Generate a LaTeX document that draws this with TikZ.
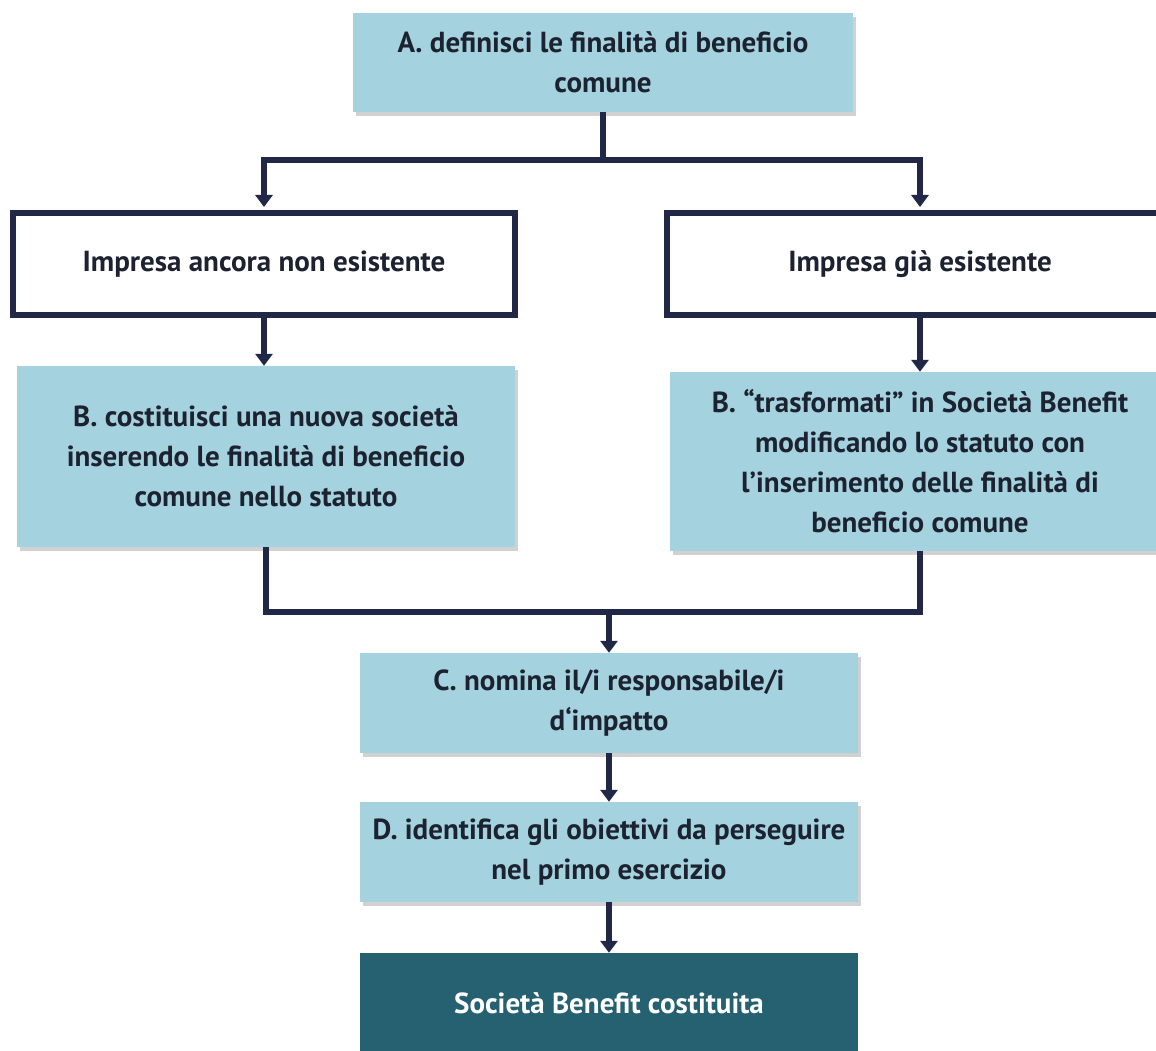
\documentclass[tikz,border=0pt]{standalone}
\usepackage{fontspec}
\setmainfont{PT Sans}
\usetikzlibrary{arrows.meta,shadows}
\definecolor{paleblue}{RGB}{164, 210, 223}
\definecolor{deepteal}{RGB}{38, 97, 114}
\definecolor{inkblue}{RGB}{33, 39, 70}
\definecolor{inktext}{RGB}{28, 34, 48}

\begin{document}
\begin{tikzpicture}[x=1pt, y=-1pt,
    stepbox/.style={fill=paleblue, draw=none, align=center, inner sep=0pt,
        text=inktext, font=\bfseries\fontsize{29}{40}\selectfont,
        drop shadow={shadow xshift=3pt, shadow yshift=-4pt, fill=black!40, opacity=0.45}},
    casebox/.style={fill=white, draw=inkblue, line width=6pt, align=center, inner sep=0pt,
        text=inktext, font=\bfseries\fontsize{29}{40}\selectfont},
    endbox/.style={fill=deepteal, draw=none, align=center, inner sep=0pt,
        text=white, font=\bfseries\fontsize{29}{40}\selectfont},
    link/.style={inkblue, line width=6pt, line join=miter},
    flow/.style={link, -{Triangle[width=17pt, length=12pt]}}]
            % Frame of the page
            \clip (0, 0) rectangle (1156, 1051);
            \fill[white] (0, 0) rectangle (1156, 1051);
            % Step A
            \node[stepbox, minimum width=500pt, minimum height=99pt] (defA) at (603, 62.5)
                 {A. definisci le finalità di beneficio\\comune};
            % Two cases
            \node[casebox, minimum width=502pt, minimum height=102pt] (nuova) at (264, 264)
                 {Impresa ancora non esistente};
            \node[casebox, minimum width=506pt, minimum height=102pt] (esist) at (920, 264)
                 {Impresa già esistente};
            % Step B
            \node[stepbox, minimum width=498pt, minimum height=181pt] (costB) at (266, 456.5)
                 {B. costituisci una nuova società\\inserendo le finalità di beneficio\\comune nello statuto};
            \node[stepbox, minimum width=500pt, minimum height=179pt] (trasfB) at (920, 461.5)
                 {B. “trasformati” in Società Benefit\\modificando lo statuto con\\l’inserimento delle finalità di\\beneficio comune};
            % Steps C, D and result
            \node[stepbox, minimum width=498pt, minimum height=100pt] (nomC) at (609, 703)
                 {C. nomina il/i responsabile/i\\d‘impatto};
            \node[stepbox, minimum width=498pt, minimum height=100pt] (idD) at (609, 852)
                 {D. identifica gli obiettivi da perseguire\\nel primo esercizio};
            \node[endbox, minimum width=498pt, minimum height=100pt] (sbfine) at (609, 1003)
                 {Società Benefit costituita};
            % Connectors
            \coordinate (split) at (603, 160);
            \coordinate (merge) at (609, 612);
            \draw[link] (defA.south) -- (split);
            \draw[flow, shorten >=3pt] (split) -| (nuova.north);
            \draw[flow, shorten >=3pt] (split) -| (esist.north);
            \draw[flow] (nuova.south) -- (nuova.south |- costB.north);
            \draw[flow] (esist.south) -- (trasfB.north);
            \draw[link] (costB.south) |- (merge) -| (trasfB.south);
            \draw[flow] (merge) -- (nomC.north);
            \draw[flow] (nomC.south) -- (idD.north);
            \draw[flow] (idD.south) -- (sbfine.north);
\end{tikzpicture}
\end{document}
